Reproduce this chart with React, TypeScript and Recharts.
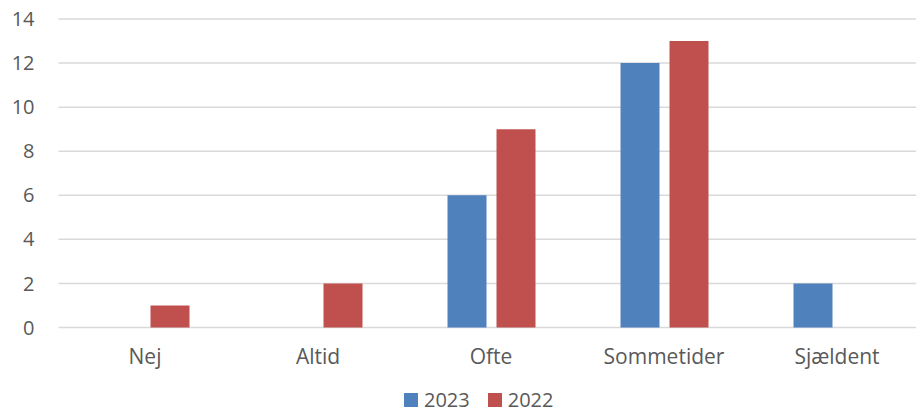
import React from "react";
import {
  BarChart,
  Bar,
  XAxis,
  YAxis,
  CartesianGrid,
  Legend,
} from "recharts";

const categories = ["Nej", "Altid", "Ofte", "Sommetider", "Sjældent"];
const values2023 = [0, 0, 6, 12, 2];
const values2022 = [1, 2, 9, 13, 0];
const yTicks = [0, 2, 4, 6, 8, 10, 12, 14];
const seriesNames = ["2023", "2022"];

const BLUE = "#4F81BD";
const RED = "#C0504D";
const TEXT = "#595959";
const FONT = "'Open Sans', 'Noto Sans', sans-serif";

const data = categories.map((name, i) => ({
  name,
  [seriesNames[0]]: values2023[i],
  [seriesNames[1]]: values2022[i],
}));

const LegendContent = () => (
  <div
    style={{
      display: "flex",
      justifyContent: "center",
      alignItems: "center",
      height: 26,
      paddingLeft: 34,
      fontFamily: FONT,
      fontSize: 20,
      lineHeight: "26px",
      color: TEXT,
    }}
  >
    {[
      { label: seriesNames[0], color: BLUE },
      { label: seriesNames[1], color: RED },
    ].map((item, i) => (
      <div
        key={item.label}
        style={{
          display: "flex",
          alignItems: "center",
          marginLeft: i === 0 ? 0 : 18,
        }}
      >
        <span
          style={{
            display: "inline-block",
            width: 14,
            height: 14,
            background: item.color,
            marginRight: 6,
          }}
        />
        <span>{item.label}</span>
      </div>
    ))}
  </div>
);

export default function App() {
  return (
    <div
      style={{
        position: "absolute",
        top: 0,
        left: 0,
        width: 916,
        height: 413,
        overflow: "hidden",
        background: "#fff",
      }}
    >
      <BarChart
        width={923.5}
        height={413}
        data={data}
        margin={{ top: 19, right: 0, bottom: 0, left: 0 }}
        barSize={39}
        barGap={10}
      >
        <CartesianGrid vertical={false} stroke="#D9D9D9" strokeWidth={1.5} />
        <XAxis
          dataKey="name"
          axisLine={false}
          tickLine={false}
          tickMargin={16}
          height={59.5}
          tick={{ fill: TEXT, fontSize: 21, fontFamily: FONT }}
        />
        <YAxis
          domain={[0, 14]}
          ticks={yTicks}
          axisLine={false}
          tickLine={false}
          width={58.5}
          tickMargin={18}
          tick={{ fill: TEXT, fontSize: 20, fontFamily: FONT }}
        />
        <Legend
          verticalAlign="bottom"
          height={26}
          wrapperStyle={{ bottom: 0, height: 26, lineHeight: "26px" }}
          content={<LegendContent />}
        />
        <Bar dataKey={seriesNames[0]} fill={BLUE} isAnimationActive={false} />
        <Bar dataKey={seriesNames[1]} fill={RED} isAnimationActive={false} />
      </BarChart>
    </div>
  );
}
